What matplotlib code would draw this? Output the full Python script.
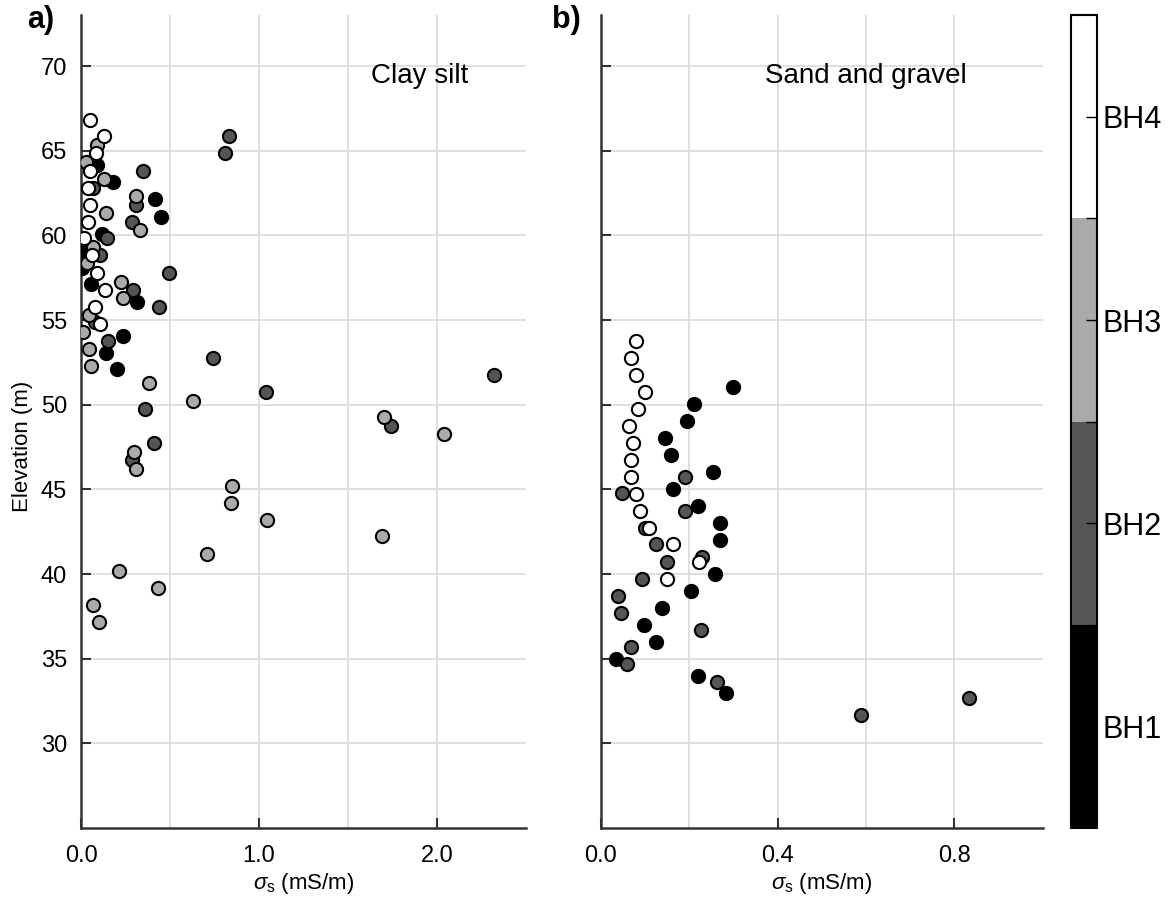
import numpy as np
import matplotlib
matplotlib.use("Agg")
import matplotlib.pyplot as plt
from matplotlib.colors import ListedColormap, BoundaryNorm
from matplotlib.cm import ScalarMappable

plt.rcParams['font.family'] = ['Liberation Sans', 'DejaVu Sans']
plt.rcParams['mathtext.fontset'] = 'custom'
plt.rcParams['mathtext.rm'] = 'Liberation Sans'
plt.rcParams['mathtext.it'] = 'Liberation Sans:italic'

boreholes = ["BH1", "BH2", "BH3", "BH4"]
bh_colors = ["#000000", "#555555", "#aaaaaa", "#ffffff"]

# clay silt (panel a)
clay_bh1_x = [0.088, 0.18, 0.415, 0.45, 0.12, 0.01, 0.004, 0.054, 0.313, 0.238, 0.139, 0.2]
clay_bh1_y = [64.15, 63.13, 62.13, 61.1, 60.1, 59.13, 58.05, 57.1, 56.08, 54.06, 53.07, 52.09]
clay_bh2_x = [0.83, 0.81, 0.35, 0.07, 0.31, 0.285, 0.148, 0.107, 0.496, 0.294, 0.438, 0.079,
              0.153, 0.74, 2.32, 1.04, 0.36, 0.41, 0.285, 1.74]
clay_bh2_y = [65.85, 64.85, 63.8, 62.78, 61.8, 60.8, 59.83, 58.84, 57.8, 56.77, 55.79, 54.9,
              53.78, 52.77, 51.75, 50.73, 49.73, 47.72, 46.73, 48.74]
clay_bh3_x = [0.09, 0.028, 0.13, 0.31, 0.14, 0.33, 0.066, 0.032, 0.223, 0.238, 0.045, 0.013,
              0.045, 0.054, 0.382, 0.627, 1.70, 2.04, 0.3, 0.31, 0.85, 0.845, 1.047, 1.69,
              0.71, 0.213, 0.43, 0.066, 0.1]
clay_bh3_y = [65.34, 64.35, 63.33, 62.33, 61.3, 60.3, 59.33, 58.35, 57.26, 56.28, 55.3, 54.31,
              53.27, 52.28, 51.26, 50.23, 49.27, 48.27, 47.22, 46.22, 45.21, 44.21, 43.19, 42.24,
              41.2, 40.19, 39.19, 38.17, 37.18]
clay_bh4_x = [0.05, 0.13, 0.084, 0.05, 0.041, 0.05, 0.037, 0.017, 0.06, 0.088, 0.135, 0.079, 0.107]
clay_bh4_y = [66.8, 65.85, 64.85, 63.8, 62.78, 61.8, 60.77, 59.83, 58.84, 57.8, 56.77, 55.79, 54.77]

# sand and gravel (panel b)
sand_bh1_x = [0.3, 0.21, 0.195, 0.145, 0.159, 0.255, 0.164, 0.219, 0.27, 0.27, 0.259, 0.204,
              0.139, 0.099, 0.125, 0.035, 0.219, 0.283]
sand_bh1_y = [51.06, 50.04, 49.05, 48.05, 47.03, 46.04, 45.02, 44.03, 43.0, 42.0, 40.0, 39.01,
              38.0, 36.98, 35.96, 34.98, 33.97, 32.95]
sand_bh2_x = [0.19, 0.049, 0.19, 0.1, 0.125, 0.23, 0.149, 0.094, 0.04, 0.045, 0.226, 0.069,
              0.06, 0.264, 0.589, 0.833]
sand_bh2_y = [45.74, 44.76, 43.74, 42.7, 41.75, 41.02, 40.72, 39.7, 38.7, 37.68, 36.69, 35.7,
              34.68, 33.63, 31.67, 32.67]
sand_bh3_x = []
sand_bh3_y = []
sand_bh4_x = [0.08, 0.069, 0.08, 0.1, 0.085, 0.065, 0.074, 0.069, 0.069, 0.08, 0.089, 0.11,
              0.164, 0.223, 0.149]
sand_bh4_y = [53.76, 52.74, 51.75, 50.77, 49.73, 48.74, 47.72, 46.73, 45.74, 44.72, 43.72, 42.7,
              41.75, 40.72, 39.7]

clay = [(clay_bh1_x, clay_bh1_y), (clay_bh2_x, clay_bh2_y), (clay_bh3_x, clay_bh3_y), (clay_bh4_x, clay_bh4_y)]
sand = [(sand_bh1_x, sand_bh1_y), (sand_bh2_x, sand_bh2_y), (sand_bh3_x, sand_bh3_y), (sand_bh4_x, sand_bh4_y)]

fig = plt.figure(figsize=(11.69, 9.05), dpi=100)
ax1 = fig.add_axes([0.0693, 0.0851, 0.3807, 0.898])
ax2 = fig.add_axes([0.5139, 0.0851, 0.378, 0.898])
cax = fig.add_axes([0.9162, 0.0851, 0.0222, 0.898])

def style_axis(ax, xlim, major, minor, labels, show_ylabels):
    ax.set_xlim(*xlim)
    ax.set_ylim(25, 73)
    ax.set_xticks(major)
    ax.set_xticklabels(labels)
    ax.set_xticks(minor, minor=True)
    ax.set_yticks(np.arange(30, 71, 5))
    ax.grid(True, which='both', color='#dcdcdc', linewidth=1.3)
    ax.set_axisbelow(True)
    for s in ['top', 'right']:
        ax.spines[s].set_visible(False)
    for s in ['left', 'bottom']:
        ax.spines[s].set_color('#333333')
        ax.spines[s].set_linewidth(1.8)
    ax.tick_params(which='major', direction='in', length=7, width=1.5, color='#333333', labelsize=17)
    ax.tick_params(axis='x', pad=12)
    ax.tick_params(axis='y', pad=10)
    ax.tick_params(which='minor', length=0)
    if not show_ylabels:
        ax.tick_params(axis='y', labelleft=False)
    ax.set_xlabel(r'$\sigma_{\rm s}$ (mS/m)', fontsize=16, labelpad=3)

for ax, data in [(ax1, clay), (ax2, sand)]:
    for (xs, ys), c in zip(data, bh_colors):
        if xs:
            ax.scatter(xs, ys, s=90, c=c, edgecolors='black', linewidths=1.5, zorder=3)

style_axis(ax1, (0, 2.5), [0, 1, 2], [0.5, 1.5], ["0.0", "1.0", "2.0"], True)
style_axis(ax2, (0, 1.0), [0, 0.4, 0.8], [0.2, 0.6], ["0.0", "0.4", "0.8"], False)
ax1.set_ylabel("Elevation (m)", fontsize=16)
ax1.yaxis.set_label_coords(-0.108, 0.47)

ax1.text(1.9, 69.4, "Clay silt", fontsize=20, ha='center', va='center')
ax2.text(0.6, 69.4, "Sand and gravel", fontsize=20, ha='center', va='center')

fig.text(0.023, 0.978, "a)", fontsize=22, fontweight='bold', ha='left', va='center')
fig.text(0.472, 0.978, "b)", fontsize=22, fontweight='bold', ha='left', va='center')

cmap = ListedColormap(bh_colors)
norm = BoundaryNorm([0.5, 1.5, 2.5, 3.5, 4.5], cmap.N)
cb = fig.colorbar(ScalarMappable(norm=norm, cmap=cmap), cax=cax, ticks=[1, 2, 3, 4])
cb.ax.set_yticklabels(boreholes)
cb.ax.minorticks_off()
cb.ax.set_yticks([1.5, 2.5, 3.5], minor=True)
cb.ax.tick_params(which='major', direction='in', length=8, width=1, labelsize=22, pad=4)
cb.ax.tick_params(which='minor', direction='in', length=8, width=1)
cb.outline.set_linewidth(1.5)

fig.savefig("out.png", dpi=100)
